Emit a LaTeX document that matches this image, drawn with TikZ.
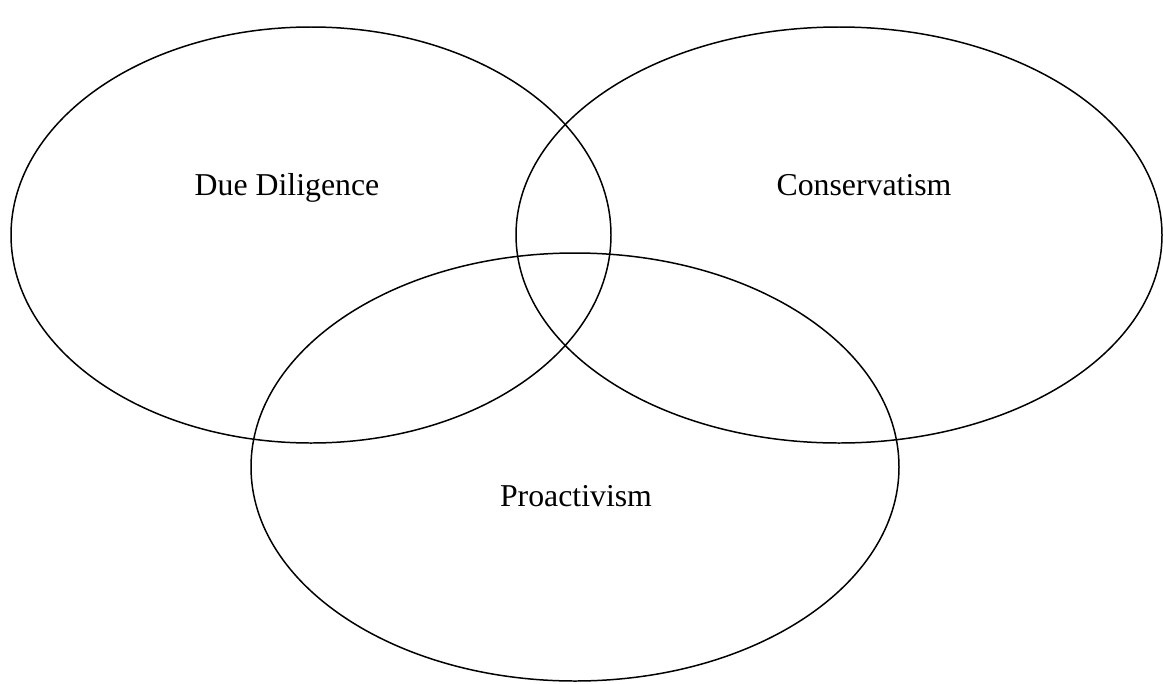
\documentclass[tikz,border=0pt]{standalone}
\usepackage{fontspec}
\setmainfont{Liberation Serif}
\begin{document}
\begin{tikzpicture}[
  x=0.02cm,
  y=-0.02cm,
  every node/.style={font=\fontsize{18.1}{22}\selectfont, anchor=base},
  circ/.style={line width=0.85pt}
]
  % Canvas: 1 unit = 1 pixel of the reference, y downwards.
  \useasboundingbox (0,0) rectangle (1163,683);

  % Three overlapping sets.
  \draw[circ] (311,235) ellipse [x radius=300, y radius=208];
  \draw[circ] (839,235) ellipse [x radius=323, y radius=208];
  \draw[circ] (575,467) ellipse [x radius=324, y radius=214];

  % Set labels (placed on their baselines).
  \node (diligence) at (287,195) {Due Diligence};
  \node (conservatism) at (864,195) {Conservatism};
  \node (proactivism) at (576,506) {Proactivism};
\end{tikzpicture}
\end{document}
